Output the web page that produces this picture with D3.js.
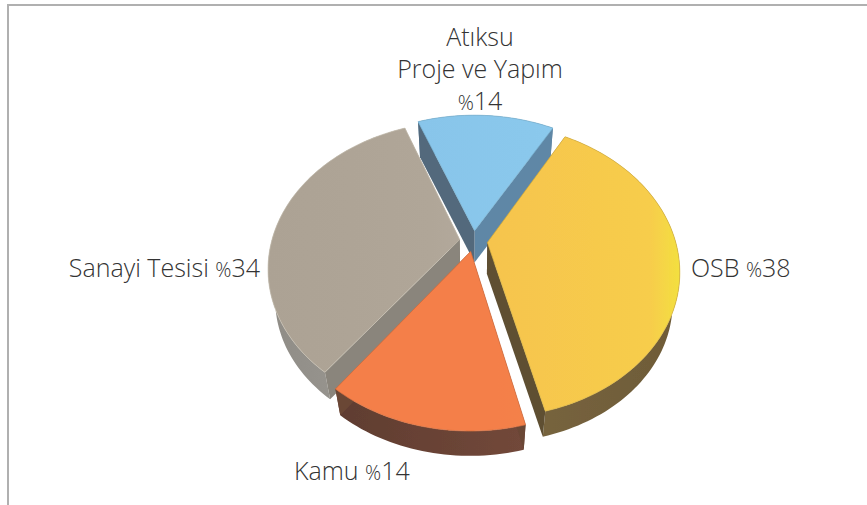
<!DOCTYPE html>
<html><head><meta charset="utf-8">
<script src="https://cdn.jsdelivr.net/npm/d3@7/dist/d3.min.js"></script>
<style>html,body{margin:0;padding:0;background:#fff}svg{display:block}text{font-family:"Open Sans",sans-serif;fill:#333;font-size:25px;font-weight:300}tspan.pct{font-size:20px}</style>
</head><body><svg id="c" width="867" height="505"></svg>
<script>
const categories = ["OSB","Kamu","Sanayi Tesisi","Atıksu Proje ve Yapım"];
const values = [38,14,34,14];
const topColors = [["#F6C44E","#F7CD4B","#F3E03F"],["#F47F48","#F47F48","#F4814A"],["#ACA294","#B0A698","#B2A89B"],["#88C5EA","#8AC8EC","#8BC9ED"]];
const radialColors = [["#5E4F33","#5E4F33"],["#6B4636","#6B4636"],["#827D73","#8A857B"],["#5F87A6","#52697C"]];
const outerColors = [["#7A6740","#6E5B38"],["#5F3D30","#72483A"],["#8F8C86","#A5A29C"],["#5F87A6","#5F87A6"]];
const labelLines = [["OSB %38"],["Kamu %14"],["Sanayi Tesisi %34"],["Atıksu","Proje ve Yapım","%14"]];
const labelAnchors = [[691,277,"start"],[294,480,"start"],[260,277,"end"],[480,46,"middle"]];

const cx=473.5, cy=241, R=188, squash=0.75, persp=0.19, explode=14, depthScale=0.965, depthDrop=31.5;
const svg=d3.select("#c");
const defs=svg.append("defs");
defs.append("filter").attr("id","soft").append("feGaussianBlur").attr("stdDeviation",0.45);

svg.append("path").attr("d","M8,505V5H867").attr("fill","none").attr("stroke","#b0b0b0").attr("stroke-width",2);

const start=29.5*Math.PI/180;
const arcs=d3.pie().sort(null).startAngle(start).endAngle(start+2*Math.PI)(values);

function proj(u,v){const w=1+persp*v/R;return [cx+u/w, cy-squash*v/w];}
function lower(p){return [cx+(p[0]-cx)*depthScale, cy+(p[1]-cy)*depthScale+depthDrop];}
function slice(a){
  const mid=(a.startAngle+a.endAngle)/2;
  const ox=explode*Math.sin(mid), oy=explode*Math.cos(mid);
  const n=Math.max(12,Math.round((a.endAngle-a.startAngle)*40));
  const rim=d3.range(n+1).map(i=>{const t=a.startAngle+(a.endAngle-a.startAngle)*i/n;return proj(ox+R*Math.sin(t),oy+R*Math.cos(t));});
  return {apex:proj(ox,oy),rim};
}
const line=d3.line().curve(d3.curveLinear);
function grad(id,cols,x1,x2){
  const g=defs.append("linearGradient").attr("id",id).attr("gradientUnits","userSpaceOnUse")
    .attr("x1",x1).attr("x2",x2).attr("y1",0).attr("y2",0);
  cols.forEach((c,i)=>g.append("stop").attr("offset",cols.length===3?[0,.85,1][i]:i/(cols.length-1)).attr("stop-color",c));
  return `url(#${id})`;
}
const g=svg.append("g").attr("filter","url(#soft)");
[3,2,0,1].forEach(i=>{
  const s=slice(arcs[i]);
  const xs=s.rim.map(p=>p[0]).concat(s.apex[0]);
  const x0=d3.min(xs), x1=d3.max(xs);
  const lo=s.rim.map(lower), aLo=lower(s.apex);
  const first=s.rim[0], last=s.rim[s.rim.length-1];
  const og=grad("o"+i,outerColors[i],x0,x1);
  g.append("path").attr("d",line([...s.rim,...lo.slice().reverse()])+"Z").attr("fill",og);
  g.append("path").attr("d",line([s.apex,last,lo[lo.length-1],aLo])+"Z").attr("fill",radialColors[i][0]);
  g.append("path").attr("d",line([s.apex,first,lo[0],aLo])+"Z").attr("fill",radialColors[i][1]);
  g.append("path").attr("d",line([s.apex,...s.rim])+"Z").attr("fill",grad("t"+i,topColors[i],x0,x1))
    .attr("stroke",i===2?"#C9C1B3":d3.color(topColors[i][1]).darker(0.35)).attr("stroke-width",0.7);
});

labelLines.forEach((ls,i)=>{
  const [x,y,anchor]=labelAnchors[i];
  ls.forEach((t,j)=>{
    const el=svg.append("text").attr("x",x).attr("y",y+j*32).attr("text-anchor",anchor);
    t.split(/(%)/).filter(Boolean).forEach(part=>el.append("tspan").attr("class",part==="%"?"pct":null).text(part));
  });
});
</script></body></html>
